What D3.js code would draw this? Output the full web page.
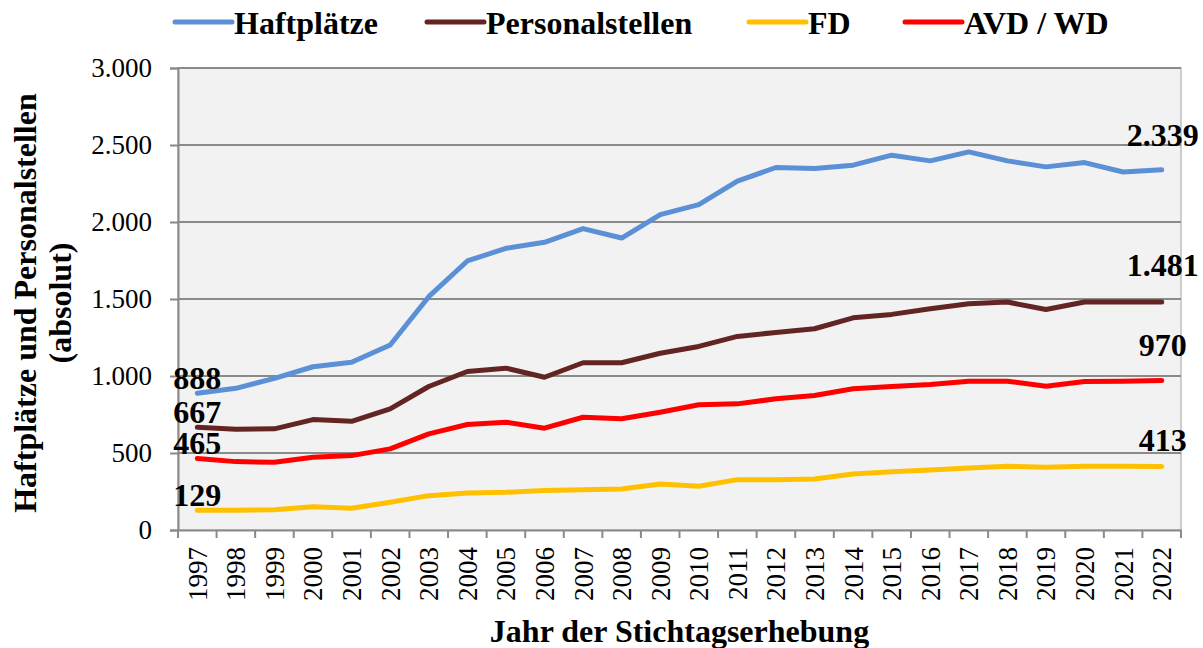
<!DOCTYPE html>
<html>
<head>
<meta charset="utf-8">
<script src="https://cdn.jsdelivr.net/npm/d3@7"></script>
<style>
  body { margin: 0; background: #fff; }
  svg text { font-family: "Liberation Serif", "Times New Roman", serif; fill: #000; }
</style>
</head>
<body>
<div id="chart"></div>
<script>
var years = ["1997","1998","1999","2000","2001","2002","2003","2004","2005","2006","2007","2008","2009",
             "2010","2011","2012","2013","2014","2015","2016","2017","2018","2019","2020","2021","2022"]

var haftplaetze = [888, 920, 985, 1060, 1089, 1201, 1515, 1747, 1829, 1868, 1957, 1896, 2048,
                   2113, 2265, 2354, 2347, 2369, 2434, 2397, 2455, 2397, 2358, 2386, 2325, 2339]
var personalstellen = [667, 654, 657, 717, 706, 787, 932, 1029, 1051, 992, 1086, 1086, 1148,
                       1192, 1257, 1283, 1307, 1378, 1400, 1437, 1469, 1480, 1432, 1481, 1481, 1481]
var fd = [129, 129, 131, 151, 141, 180, 223, 241, 245, 256, 262, 266, 299,
          284, 327, 327, 331, 364, 379, 390, 403, 414, 407, 414, 414, 413]
var avdwd = [465, 444, 440, 472, 483, 527, 624, 685, 700, 661, 732, 722, 765,
             813, 819, 852, 873, 917, 932, 945, 966, 966, 934, 964, 966, 970]

var seriesNames = ["Haftplätze", "Personalstellen", "FD", "AVD / WD"]
var yTicks = [0, 500, 1000, 1500, 2000, 2500, 3000]

var series = [
  {name: seriesNames[0], values: haftplaetze, color: "#5b8fd6"},
  {name: seriesNames[1], values: personalstellen, color: "#632523"},
  {name: seriesNames[2], values: fd, color: "#ffc000"},
  {name: seriesNames[3], values: avdwd, color: "#ff0000"}
]

var W = 1203, H = 648
var margin = {top: 68, right: 22, bottom: 118, left: 178}
var width = W - margin.left - margin.right,
    height = H - margin.top - margin.bottom

var fmt = function(v) { return d3.format(",")(v).replace(/,/g, ".") }

var svg = d3.select("#chart").append("svg")
    .attr("width", W)
    .attr("height", H)

var g = svg.append("g")
    .attr("transform", "translate(" + margin.left + "," + margin.top + ")")

var x = d3.scaleBand().domain(years).range([0, width]).padding(0)
var y = d3.scaleLinear().domain([0, 3000]).range([height, 0])
var cx = function(i) { return x(years[i]) + x.bandwidth() / 2 }

// plot area
g.append("rect")
  .attr("width", width)
  .attr("height", height)
  .attr("fill", "#f2f2f2")
  .attr("stroke", "#bfbfbf")
  .attr("stroke-width", 1.5)

// gridlines
g.selectAll(".grid").data(yTicks.slice(1)).enter().append("line")
  .attr("x1", 0).attr("x2", width)
  .attr("y1", function(d) { return y(d) }).attr("y2", function(d) { return y(d) })
  .attr("stroke", "#8a8a8a")
  .attr("stroke-width", 2)

// y axis
var yAxis = g.append("g")
  .call(d3.axisLeft(y).tickValues(yTicks).tickSize(8).tickPadding(18).tickFormat(fmt))
yAxis.select(".domain").attr("stroke", "#8a8a8a").attr("stroke-width", 2)
yAxis.selectAll(".tick line").attr("stroke", "#8a8a8a").attr("stroke-width", 2)
yAxis.selectAll(".tick text").attr("font-size", 27).attr("font-family", "Liberation Serif")

// x axis
var xAxis = g.append("g")
  .attr("transform", "translate(0," + height + ")")
  .call(d3.axisBottom(x).tickSize(0).tickSizeOuter(0))
xAxis.select(".domain").attr("stroke", "#8a8a8a").attr("stroke-width", 2)
xAxis.selectAll(".tick text")
  .attr("font-size", 27)
  .attr("font-family", "Liberation Serif")
  .attr("text-anchor", "end")
  .attr("transform", "translate(0,17) rotate(-90)")
  .attr("x", 0).attr("y", 0).attr("dy", "0.35em")

// band boundary ticks
g.selectAll(".xtick").data(d3.range(years.length + 1)).enter().append("line")
  .attr("x1", function(i) { return i * x.bandwidth() })
  .attr("x2", function(i) { return i * x.bandwidth() })
  .attr("y1", height).attr("y2", height + 8)
  .attr("stroke", "#8a8a8a")
  .attr("stroke-width", 2)

// lines
var line = d3.line()
  .x(function(d, i) { return cx(i) })
  .y(function(d) { return y(d) })

g.selectAll(".series").data(series).enter().append("path")
  .attr("d", function(s) { return line(s.values) })
  .attr("fill", "none")
  .attr("stroke", function(s) { return s.color })
  .attr("stroke-width", 5)
  .attr("stroke-linejoin", "round")
  .attr("stroke-linecap", "round")

// value labels at first and last year
var last = years.length - 1
var endNudge = [24, 26, 15, 25]
series.forEach(function(s, k) {
  g.append("text")
    .attr("x", cx(0))
    .attr("y", y(s.values[0]) - 4)
    .attr("text-anchor", "middle")
    .attr("font-size", 32)
    .attr("font-weight", "bold")
    .text(fmt(s.values[0]))
  g.append("text")
    .attr("x", cx(last) + 1)
    .attr("y", y(s.values[last]) - endNudge[k])
    .attr("text-anchor", "middle")
    .attr("font-size", 32)
    .attr("font-weight", "bold")
    .text(fmt(s.values[last]))
})

// legend
var legendX = [175, 427, 749, 905]
var leg = svg.selectAll(".leg").data(series).enter().append("g")
  .attr("transform", function(s, i) { return "translate(" + legendX[i] + ",22)" })
leg.append("line")
  .attr("x1", 0).attr("x2", 57)
  .attr("stroke", function(s) { return s.color })
  .attr("stroke-width", 5)
  .attr("stroke-linecap", "round")
leg.append("text")
  .attr("x", 59)
  .attr("y", 12)
  .attr("font-size", 32)
  .attr("font-weight", "bold")
  .text(function(s) { return s.name })

// axis titles
var yTitle = svg.append("text")
  .attr("transform", "translate(36,303) rotate(-90)")
  .attr("text-anchor", "middle")
  .attr("font-size", 32)
  .attr("font-weight", "bold")
yTitle.append("tspan").attr("x", 0).attr("y", 0).text("Haftplätze und Personalstellen")
yTitle.append("tspan").attr("x", 0).attr("y", 35).text("(absolut)")

svg.append("text")
  .attr("x", margin.left + width / 2)
  .attr("y", 642)
  .attr("text-anchor", "middle")
  .attr("font-size", 32)
  .attr("font-weight", "bold")
  .text("Jahr der Stichtagserhebung")
</script>
</body>
</html>
